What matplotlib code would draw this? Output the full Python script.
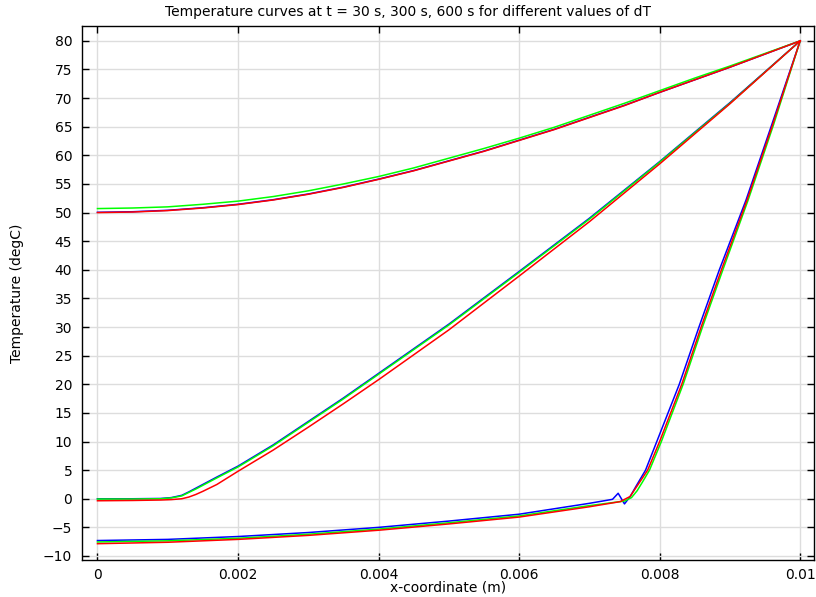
import numpy as np
import matplotlib
matplotlib.use('Agg')
import matplotlib.pyplot as plt


# x positions (m) for the smooth curves
x_top = [0, 0.0005, 0.001, 0.0015, 0.002, 0.0025, 0.003, 0.0035, 0.004, 0.0045,
         0.005, 0.0055, 0.006, 0.0065, 0.007, 0.0075, 0.008, 0.0085, 0.009,
         0.0095, 0.01]
x_mid = [0, 0.0005, 0.0009, 0.00105, 0.0012, 0.0013, 0.0014, 0.0015, 0.0017,
         0.002, 0.0025, 0.003, 0.0035, 0.004, 0.005, 0.006, 0.007, 0.008,
         0.009, 0.01]

# t = 600 s
top_blue = [50.05, 50.15, 50.4, 50.85, 51.45, 52.25, 53.25, 54.45, 55.85, 57.35,
            59.05, 60.75, 62.65, 64.55, 66.65, 68.75, 71.0, 73.2, 75.4, 77.7, 80]
top_green = [50.7, 50.8, 51.0, 51.45, 52.0, 52.8, 53.8, 55.0, 56.3, 57.8,
             59.5, 61.2, 63.0, 64.9, 67.0, 69.1, 71.3, 73.5, 75.6, 77.8, 80]
top_red = [50.0, 50.1, 50.35, 50.8, 51.4, 52.2, 53.2, 54.4, 55.8, 57.3,
           59.0, 60.7, 62.6, 64.5, 66.6, 68.7, 71.0, 73.2, 75.4, 77.7, 80]

# t = 300 s
mid_blue = [0.0, 0.0, 0.05, 0.2, 0.6, 1.2, 1.85, 2.5, 3.8,
            5.7, 9.4, 13.5, 17.6, 21.9, 30.5, 39.7, 49.0, 58.9, 69.2, 80]
mid_green = [-0.05, -0.05, 0.0, 0.15, 0.5, 1.1, 1.7, 2.35, 3.65,
             5.55, 9.25, 13.35, 17.45, 21.75, 30.35, 39.55, 48.85, 58.8, 69.1, 80]
mid_red = [-0.35, -0.3, -0.22, -0.15, 0.0, 0.3, 0.75, 1.3, 2.5,
           4.8, 8.5, 12.5, 16.6, 20.8, 29.5, 38.9, 48.4, 58.5, 69.0, 80]

# t = 30 s
bot_x_blue = [0, 0.001, 0.002, 0.003, 0.004, 0.005, 0.006, 0.007, 0.00733,
              0.00741, 0.0075, 0.00758, 0.00767, 0.0078, 0.00796, 0.00828,
              0.00856, 0.00885, 0.00923, 0.0096, 0.01]
bot_blue = [-7.3, -7.1, -6.6, -5.9, -5.0, -3.9, -2.7, -0.8, -0.1,
            0.96, -0.9, 0.37, 2.3, 5, 10, 20, 30, 40, 52.2, 65.5, 80]
bot_x_green = [0, 0.001, 0.002, 0.003, 0.004, 0.005, 0.006, 0.007, 0.0075,
               0.0076, 0.00768, 0.00776, 0.007856, 0.008025, 0.008335, 0.00861,
               0.0089, 0.00926, 0.00962, 0.01]
bot_green = [-7.55, -7.35, -6.9, -6.2, -5.3, -4.2, -3.0, -1.2, -0.4,
             0.2, 1.4, 3.0, 5, 10, 20, 30, 40, 52.2, 65.3, 80]
bot_x_red = [0, 0.001, 0.002, 0.003, 0.004, 0.005, 0.006, 0.007, 0.00744,
             0.00758, 0.0077, 0.00783, 0.008, 0.008315, 0.008591, 0.00888,
             0.009245, 0.00961, 0.01]
bot_red = [-7.85, -7.6, -7.1, -6.4, -5.5, -4.4, -3.2, -1.4, -0.5,
           0.4, 2.6, 5, 10, 20, 30, 40, 52.2, 65.4, 80]

x_ticks = [0, 0.002, 0.004, 0.006, 0.008, 0.01]
x_tick_labels = ['0', '0.002', '0.004', '0.006', '0.008', '0.01']
y_ticks = list(range(-10, 81, 5))


fig = plt.figure(figsize=(8.16, 5.97), dpi=100)
ax = fig.add_axes([82/816, 37/597, (813.5-82)/816, (560-26)/597])

lw = 1.1
for xs, ys in [(x_top, top_blue), (x_mid, mid_blue), (bot_x_blue, bot_blue)]:
    ax.plot(xs, ys, color='#0000ff', lw=lw)
for xs, ys in [(x_top, top_green), (x_mid, mid_green), (bot_x_green, bot_green)]:
    ax.plot(xs, ys, color='#00ff00', lw=lw)
for xs, ys in [(x_top, top_red), (x_mid, mid_red), (bot_x_red, bot_red)]:
    ax.plot(xs, ys, color='#ff0000', lw=lw)

ax.set_xlim(-0.00022, 0.01019)
ax.set_ylim(-10.7, 82.6)
ax.set_xticks(x_ticks)
ax.set_xticklabels(x_tick_labels)
ax.set_yticks(y_ticks)
ax.grid(True, color='#dddddd', lw=1)
ax.set_axisbelow(True)
ax.tick_params(direction='in', length=5, width=1, top=True, right=True,
               labelsize=10, pad=6)
ax.tick_params(axis='y', pad=7)
for s in ax.spines.values():
    s.set_linewidth(1)

fig.text(0.5, 1 - 12/597, 'Temperature curves at t = 30 s, 300 s, 600 s for different values of dT',
         fontsize=10, ha='center', va='center')
ax.set_xlabel('x-coordinate (m)', fontsize=10, labelpad=-1)
ax.set_ylabel('Temperature (degC)', fontsize=10, labelpad=14)

fig.savefig('out.png', dpi=100)
